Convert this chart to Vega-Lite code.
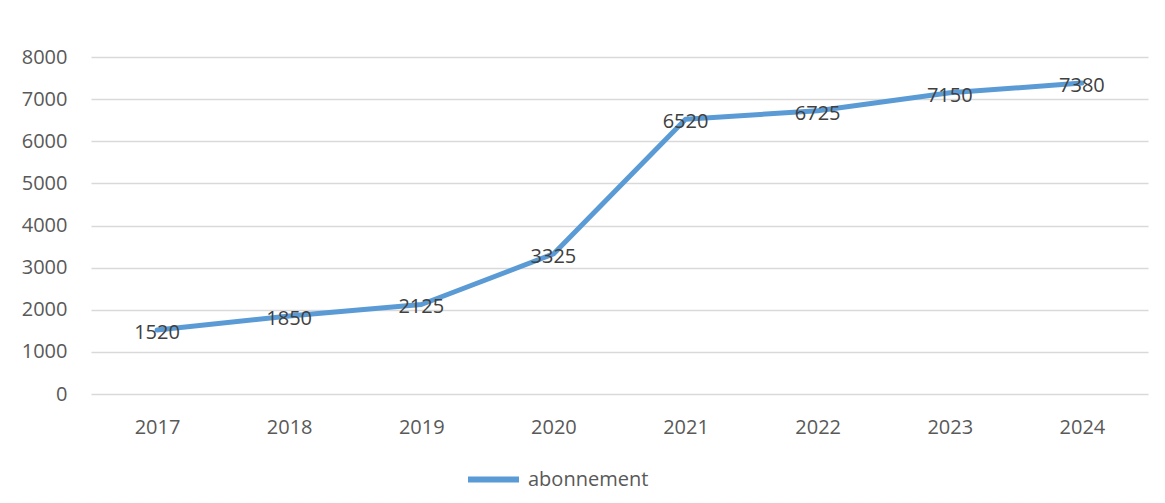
{
  "$schema": "https://vega.github.io/schema/vega-lite/v6.json",
  "width": 1057,
  "height": 337,
  "autosize": {"type": "none"},
  "padding": {"left": 91, "top": 57, "right": 17, "bottom": 109},
  "background": "white",
  "config": {
    "view": {"stroke": null},
    "font": "Open Sans"
  },
  "data": {
    "values": [
      {"year": "2017", "value": 1520, "series": "abonnement"},
      {"year": "2018", "value": 1850, "series": "abonnement"},
      {"year": "2019", "value": 2125, "series": "abonnement"},
      {"year": "2020", "value": 3325, "series": "abonnement"},
      {"year": "2021", "value": 6520, "series": "abonnement"},
      {"year": "2022", "value": 6725, "series": "abonnement"},
      {"year": "2023", "value": 7150, "series": "abonnement"},
      {"year": "2024", "value": 7380, "series": "abonnement"}
    ]
  },
  "encoding": {
    "x": {
      "field": "year",
      "type": "ordinal",
      "scale": {"type": "point", "padding": 0.5},
      "axis": {
        "title": null,
        "labelAngle": 0,
        "domain": false,
        "ticks": false,
        "labelPadding": 23,
        "labelFontSize": 20,
        "labelColor": "#595959",
        "labelFont": "Open Sans"
      }
    },
    "y": {
      "field": "value",
      "type": "quantitative",
      "scale": {"domain": [0, 8000], "nice": false},
      "axis": {
        "title": null,
        "format": "d",
        "values": [0, 1000, 2000, 3000, 4000, 5000, 6000, 7000, 8000],
        "domain": false,
        "ticks": false,
        "labelPadding": 24,
        "labelFontSize": 20,
        "labelColor": "#595959",
        "labelFont": "Open Sans",
        "gridColor": "#d9d9d9",
        "gridWidth": 1.5
      }
    }
  },
  "layer": [
    {
      "mark": {"type": "line", "strokeWidth": 5, "strokeCap": "round", "strokeJoin": "round"},
      "encoding": {
        "color": {
          "field": "series",
          "type": "nominal",
          "scale": {"range": ["#5b9bd5"]},
          "legend": {
            "title": null,
            "orient": "none",
            "legendX": 374,
            "legendY": 394,
            "symbolType": "stroke",
            "symbolSize": 2600,
            "symbolStrokeWidth": 6,
            "labelFontSize": 20,
            "labelColor": "#595959",
            "labelFont": "Open Sans",
            "labelOffset": 6
          }
        }
      }
    },
    {
      "mark": {"type": "text", "fontSize": 20, "color": "#404040", "dy": 3, "font": "Open Sans"},
      "encoding": {"text": {"field": "value", "type": "quantitative", "format": "d"}}
    }
  ]
}
